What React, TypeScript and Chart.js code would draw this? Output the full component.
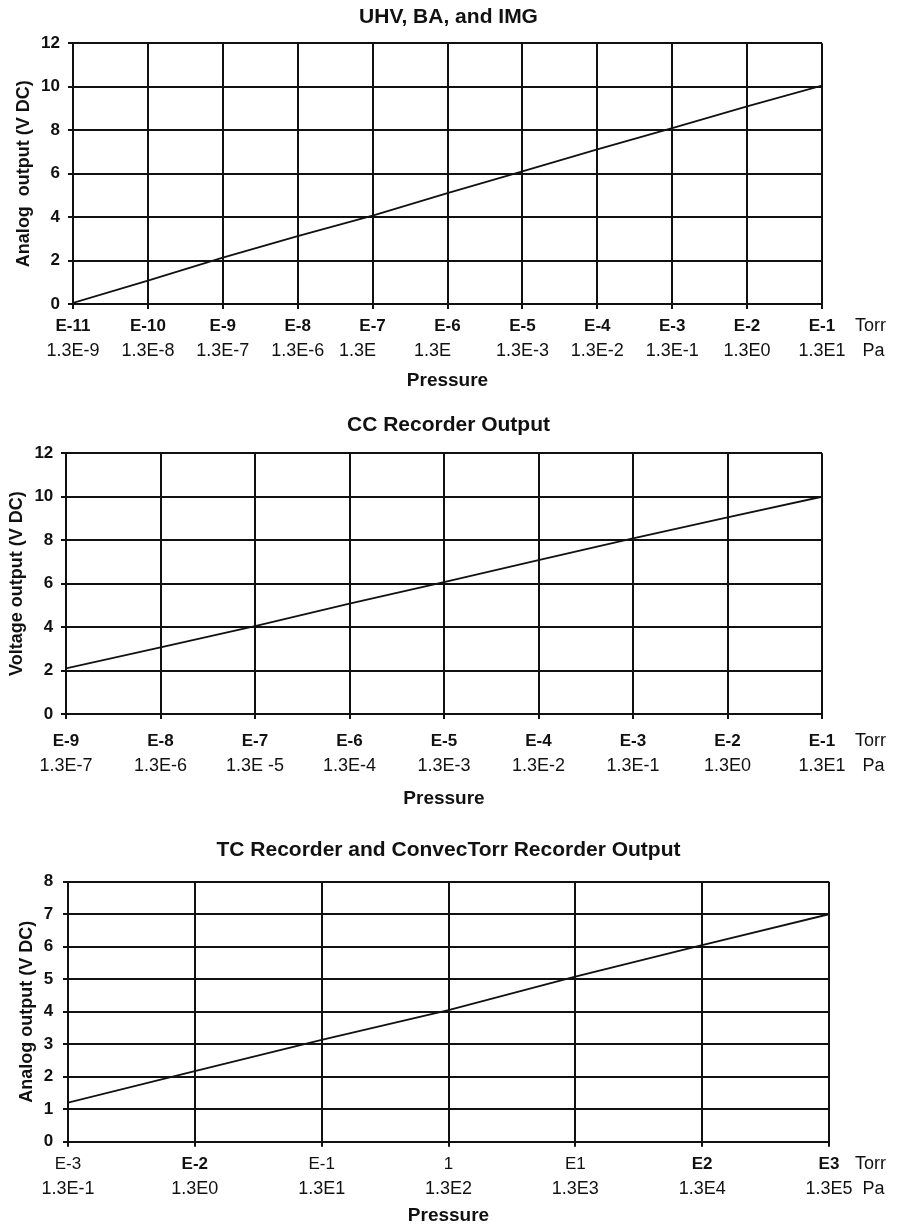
import React, { useEffect, useRef } from "react";
import { Chart, registerables } from "chart.js";

Chart.register(...registerables);

const FONT = "'Liberation Sans', Arial, Helvetica, sans-serif";
const INK = "#111111";

// ---------- Chart 1: UHV, BA, and IMG ----------
const uhvExponents = [-11, -10, -9, -8, -7, -6, -5, -4, -3, -2, -1];
const uhvTorrLabels = ["E-11", "E-10", "E-9", "E-8", "E-7", "E-6", "E-5", "E-4", "E-3", "E-2", "E-1"];
const uhvPaLabels = ["1.3E-9", "1.3E-8", "1.3E-7", "1.3E-6", "1.3E      ", "1.3E      ", "1.3E-3", "1.3E-2", "1.3E-1", "1.3E0", "1.3E1"];
const uhvOutput = [0.05, 1.08, 2.13, 3.12, 4.07, 5.1, 6.1, 7.12, 8.1, 9.1, 10.05];

// ---------- Chart 2: CC Recorder Output ----------
const ccExponents = [-9, -8, -7, -6, -5, -4, -3, -2, -1];
const ccTorrLabels = ["E-9", "E-8", "E-7", "E-6", "E-5", "E-4", "E-3", "E-2", "E-1"];
const ccPaLabels = ["1.3E-7", "1.3E-6", "1.3E -5", "1.3E-4", "1.3E-3", "1.3E-2", "1.3E-1", "1.3E0", "1.3E1"];
const ccOutput = [2.1, 3.07, 4.05, 5.08, 6.07, 7.08, 8.08, 9.05, 10.0];

// ---------- Chart 3: TC Recorder and ConvecTorr Recorder Output ----------
const tcExponents = [-3, -2, -1, 0, 1, 2, 3];
const tcTorrLabels = ["E-3", "E-2", "E-1", "1", "E1", "E2", "E3"];
const tcPaLabels = ["1.3E-1", "1.3E0", "1.3E1", "1.3E2", "1.3E3", "1.3E4", "1.3E5"];
const tcOutput = [1.2, 2.17, 3.13, 4.05, 5.08, 6.05, 7.0];

type Spec = {
  title: string;
  yTitle: string;
  exps: number[];
  torr: string[];
  pa: string[];
  values: number[];
  yMax: number;
  yStep: number;
  torrBold?: boolean[];
  canvasTop: number;
  canvasH: number;
  left: number;
  right: number;
  top: number;
  bottom: number;
  titleY: number;
  row1: number;
  row2: number;
  press: number;
  yTitleX: number;
  yLabelRight: number;
};

const specs: Spec[] = [
  {
    title: "UHV, BA, and IMG",
    yTitle: "Analog  output (V DC)",
    exps: uhvExponents,
    torr: uhvTorrLabels,
    pa: uhvPaLabels,
    values: uhvOutput,
    yMax: 12,
    yStep: 2,
    canvasTop: 0,
    canvasH: 400,
    left: 73,
    right: 822,
    top: 43.3,
    bottom: 304,
    titleY: 17,
    row1: 22.3,
    row2: 47,
    press: 77,
    yTitleX: 24,
    yLabelRight: 60,
  },
  {
    title: "CC Recorder Output",
    yTitle: "Voltage output (V DC)",
    exps: ccExponents,
    torr: ccTorrLabels,
    pa: ccPaLabels,
    values: ccOutput,
    yMax: 12,
    yStep: 2,
    canvasTop: 400,
    canvasH: 415,
    left: 66,
    right: 822,
    top: 53.3,
    bottom: 314,
    titleY: 25.5,
    row1: 27,
    row2: 52,
    press: 85,
    yTitleX: 17.5,
    yLabelRight: 53.3,
  },
  {
    title: "TC Recorder and ConvecTorr Recorder Output",
    yTitle: "Analog output (V DC)",
    exps: tcExponents,
    torr: tcTorrLabels,
    pa: tcPaLabels,
    values: tcOutput,
    yMax: 8,
    yStep: 1,
    torrBold: [false, true, false, false, false, true, true],
    canvasTop: 815,
    canvasH: 415,
    left: 68,
    right: 829,
    top: 66.7,
    bottom: 326.7,
    titleY: 35.3,
    row1: 22.3,
    row2: 47.5,
    press: 74.5,
    yTitleX: 26.7,
    yLabelRight: 53.3,
  },
];

const annotPlugin = {
  id: "annot",
  afterDraw(chart: any, _args: any, opts: any) {
    const ctx = chart.ctx;
    ctx.save();
    ctx.fillStyle = INK;
    ctx.textBaseline = "middle";
    ctx.textAlign = "center";
    ctx.font = `bold 21px ${FONT}`;
    ctx.fillText(opts.title, 448.5, opts.titleY);
    ctx.textAlign = "left";
    ctx.font = `18px ${FONT}`;
    ctx.fillText("Torr", 855, opts.row1Y);
    ctx.fillText("Pa", 862.5, opts.row2Y);
    ctx.restore();
  },
};

function buildConfig(s: Spec): any {
  const min = s.exps[0];
  const max = s.exps[s.exps.length - 1];
  const points = s.exps.map((e, i) => ({ x: e, y: s.values[i] }));
  const tl = 5;
  const size1 = 17;
  const size2 = 18;
  const lh1 = size1 * 1.2;
  const lh2 = size2 * 1.2;
  const p1 = s.row1 - tl - lh1 / 2;
  const h1 = s.row2 - lh2 / 2;
  const titleSize = 19;
  const titleLH = titleSize * 1.2;
  const h2 = s.press + titleLH / 2 - h1;
  const padBottom = s.canvasH - (s.bottom + s.press + titleLH / 2);
  const yTitleLH = 18 * 1.2;
  const grid = { color: INK, lineWidth: 2, tickLength: tl, tickColor: INK, tickWidth: 2 };
  const border = { display: true, color: INK, width: 2 };
  const labelAt = (arr: string[]) => (v: number) => {
    const i = Math.round(v) - min;
    return arr[i] ?? "";
  };
  return {
    type: "line",
    data: {
      datasets: [
        {
          data: points,
          borderColor: INK,
          borderWidth: 1.8,
          pointRadius: 0,
          tension: 0,
          fill: false,
        },
      ],
    },
    plugins: [annotPlugin],
    options: {
      responsive: false,
      animation: false,
      devicePixelRatio: 1,
      layout: {
        padding: { top: s.top, left: 0, right: 897 - s.right, bottom: padBottom },
      },
      plugins: {
        legend: { display: false },
        tooltip: { enabled: false },
        title: { display: false },
        annot: {
          title: s.title,
          titleY: s.titleY,
          row1Y: s.bottom + s.row1,
          row2Y: s.bottom + s.row2,
        },
      },
      scales: {
        x: {
          type: "linear",
          position: "bottom",
          weight: 0,
          min,
          max,
          grid,
          border,
          ticks: {
            stepSize: 1,
            autoSkip: false,
            maxRotation: 0,
            minRotation: 0,
            padding: p1,
            color: INK,
            font: (c: any) => ({
              family: FONT,
              size: size1,
              weight: s.torrBold ? (s.torrBold[c.index] ? "bold" : "normal") : "bold",
            }),
            callback: labelAt(s.torr),
          },
          afterFit: (scale: any) => {
            scale.height = h1;
          },
        },
        x2: {
          type: "linear",
          position: "bottom",
          axis: "x",
          weight: 1,
          min,
          max,
          grid: { display: false, drawTicks: false },
          border: { display: false },
          ticks: {
            stepSize: 1,
            autoSkip: false,
            maxRotation: 0,
            minRotation: 0,
            padding: 0,
            color: INK,
            font: { family: FONT, size: size2 },
            callback: labelAt(s.pa),
          },
          title: {
            display: true,
            text: "Pressure",
            color: INK,
            font: { family: FONT, size: titleSize, weight: "bold" },
            padding: { top: 0, bottom: 0 },
          },
          afterFit: (scale: any) => {
            scale.height = h2;
          },
        },
        y: {
          type: "linear",
          position: "left",
          min: 0,
          max: s.yMax,
          grid,
          border,
          ticks: {
            stepSize: s.yStep,
            padding: s.left - tl - s.yLabelRight,
            color: INK,
            font: { family: FONT, size: 17, weight: "bold" },
          },
          title: {
            display: true,
            text: s.yTitle,
            color: INK,
            font: { family: FONT, size: 18, weight: "bold" },
            padding: { top: s.yTitleX - yTitleLH / 2, bottom: 0 },
          },
          afterFit: (scale: any) => {
            scale.width = s.left;
          },
        },
      },
    },
  };
}

function Panel({ spec }: { spec: Spec }) {
  const ref = useRef<HTMLCanvasElement | null>(null);
  useEffect(() => {
    if (!ref.current) return;
    const chart = new Chart(ref.current, buildConfig(spec));
    return () => chart.destroy();
  }, [spec]);
  return (
    <canvas
      ref={ref}
      width={897}
      height={spec.canvasH}
      style={{
        position: "absolute",
        left: 0,
        top: spec.canvasTop,
        width: 897,
        height: spec.canvasH,
        display: "block",
      }}
    />
  );
}

export default function App() {
  return (
    <div
      style={{
        position: "absolute",
        left: 0,
        top: 0,
        width: 897,
        height: 1230,
        background: "#ffffff",
        overflow: "hidden",
      }}
    >
      {specs.map((s, i) => (
        <Panel key={i} spec={s} />
      ))}
    </div>
  );
}
